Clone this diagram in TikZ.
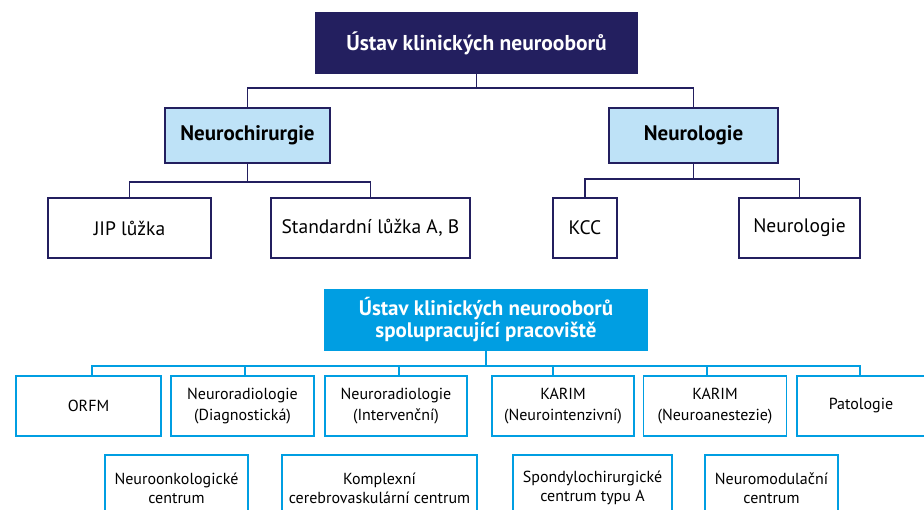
\documentclass[tikz,border=0pt]{standalone}
\usepackage{fontspec}
\setmainfont{PT Sans}
\definecolor{navy}{HTML}{231F5F}
\definecolor{paleblue}{HTML}{BEE2F7}
\definecolor{cyanhead}{HTML}{009EE2}
\tikzset{
  box/.style={draw, line width=1.8pt, inner sep=0pt, align=center, fill=white},
  navybox/.style={box, draw=navy},
  cyanbox/.style={box, draw=cyanhead, font=\fontsize{16}{21.5}\selectfont},
  navyline/.style={draw=navy, line width=1.8pt},
  cyanline/.style={draw=cyanhead, line width=1.8pt}
}
\begin{document}
\begin{tikzpicture}[x=1pt, y=-1pt]
\useasboundingbox (0,0) rectangle (924,510);

\node[navybox, fill=navy, text=white, font=\fontsize{21.5}{24}\selectfont\bfseries,
  minimum width=321, minimum height=60] (ustav) at (476.5,43) {Ústav klinických neurooborů};
\node[navybox, fill=paleblue, font=\fontsize{21}{24}\selectfont\bfseries,
  minimum width=165, minimum height=55] (nchir) at (247.5,135.5) {Neurochirurgie};
\node[navybox, fill=paleblue, font=\fontsize{21}{24}\selectfont\bfseries,
  minimum width=169, minimum height=55] (nlog) at (693.5,135.5) {Neurologie};
\node[navybox, font=\fontsize{19.5}{22}\selectfont, minimum width=163, minimum height=60] (jip) at (129.5,228) {JIP lůžka};
\node[navybox, font=\fontsize{19.5}{22}\selectfont, minimum width=199, minimum height=60] (std) at (370.5,228) {Standardní lůžka A, B};
\node[navybox, font=\fontsize{19.5}{22}\selectfont, minimum width=64, minimum height=60] (kcc) at (585,228) {KCC};
\node[navybox, font=\fontsize{19.5}{22}\selectfont, minimum width=121, minimum height=60] (nlogb) at (799.5,228) {Neurologie};

\draw[navyline] (ustav.south) -- ++(0,14) -| (nchir.north);
\draw[navyline] (ustav.south) -- ++(0,14) -| (nlog.north);
\draw[navyline] (nchir.south) -- ++(0,18) -| (jip.north);
\draw[navyline] (nchir.south) -- ++(0,18) -| (std.north);
\draw[navyline] (nlog.south) -- ++(0,15) -| (kcc.north);
\draw[navyline] (nlog.south) -- ++(0,15) -| (nlogb.north);

\node[box, draw=cyanhead, fill=cyanhead, text=white, font=\fontsize{21}{22}\selectfont\bfseries,
  minimum width=322, minimum height=60] (spol) at (486,320) {Ústav klinických neurooborů\\spolupracující pracoviště};

\node[cyanbox, minimum width=145, minimum height=60] (orfm) at (88.5,406) {ORFM};
\node[cyanbox, minimum width=143, minimum height=60] (ndiag) at (242.5,406) {Neuroradiologie\\(Diagnostická)};
\node[cyanbox, minimum width=142, minimum height=60] (nint) at (396,406) {Neuroradiologie\\(Intervenční)};
\node[cyanbox, minimum width=142, minimum height=60] (karA) at (563,406) {KARIM\\(Neurointenzivní)};
\node[cyanbox, minimum width=143, minimum height=60] (karB) at (715,406) {KARIM\\(Neuroanestezie)};
\node[cyanbox, minimum width=128, minimum height=60] (pato) at (861,406) {Patologie};

\draw[cyanline] (spol.south) -- ++(0,15) -| ([xshift=3.5]orfm.north);
\draw[cyanline] (spol.south) -- ++(0,15) -| ([xshift=2.5]ndiag.north);
\draw[cyanline] (spol.south) -- ++(0,15) -| ([xshift=3]nint.north);
\draw[cyanline] (spol.south) -- ++(0,15) -| ([xshift=-10]karA.north);
\draw[cyanline] (spol.south) -- ++(0,15) -| ([xshift=-8]karB.north);
\draw[cyanline] (spol.south) -- ++(0,15) -| ([xshift=-1]pato.north);

\node[cyanbox, font=\fontsize{16}{19}\selectfont, minimum width=143, minimum height=66] (onko) at (176.5,488) {Neuroonkologické\\centrum};
\node[cyanbox, font=\fontsize{16}{19}\selectfont, minimum width=195, minimum height=66] (cere) at (379.5,488) {Komplexní\\cerebrovaskulární centrum};
\node[cyanbox, font=\fontsize{16}{19}\selectfont, minimum width=159, minimum height=66] (spond) at (592.5,488) {Spondylochirurgické\\centrum typu A};
\node[cyanbox, font=\fontsize{16}{19}\selectfont, minimum width=133, minimum height=66] (nmod) at (771.5,488) {Neuromodulační\\centrum};
\end{tikzpicture}
\end{document}
